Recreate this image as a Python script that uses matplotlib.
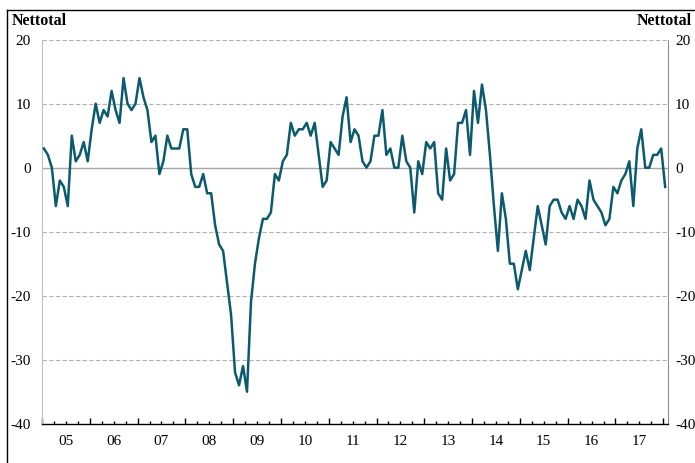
import numpy as np
import matplotlib
matplotlib.use('Agg')
import matplotlib.pyplot as plt
from matplotlib.ticker import MultipleLocator

# monthly net balance, Jan 2005 - Jan 2018
nettotal = [3, 2, 0, -6, -2, -3, -6, 5, 1, 2, 4, 1,
            6, 10, 7, 9, 8, 12, 9, 7, 14, 10, 9, 10,
            14, 11, 9, 4, 5, -1, 1, 5, 3, 3, 3, 6,
            6, -1, -3, -3, -1, -4, -4, -9, -12, -13, -18, -23,
            -32, -34, -31, -35, -21, -15, -11, -8, -8, -7, -1, -2,
            1, 2, 7, 5, 6, 6, 7, 5, 7, 2, -3, -2,
            4, 3, 2, 8, 11, 4, 6, 5, 1, 0, 1, 5,
            5, 9, 2, 3, 0, 0, 5, 1, 0, -7, 1, -1,
            4, 3, 4, -4, -5, 3, -2, -1, 7, 7, 9, 2,
            12, 7, 13, 9, 2, -6, -13, -4, -8, -15, -15, -19,
            -16, -13, -16, -11, -6, -9, -12, -6, -5, -5, -7, -8,
            -6, -8, -5, -6, -8, -2, -5, -6, -7, -9, -8, -3,
            -4, -2, -1, 1, -6, 3, 6, 0, 0, 2, 2, 3,
            -3]
start_year = 2005
year_labels = ['05', '06', '07', '08', '09', '10', '11', '12', '13', '14', '15', '16', '17']
y_ticks = [-40, -30, -20, -10, 0, 10, 20]

plt.rcParams['font.family'] = ['Liberation Serif', 'DejaVu Serif']
plt.rcParams['axes.unicode_minus'] = False

x_vals = start_year + np.arange(len(nettotal)) / 12.0 + 0.04

fig = plt.figure(figsize=(6.95, 4.63), dpi=100)
ax = fig.add_axes([0.0604, 0.0849, 0.9008, 0.8294])

ax.plot(x_vals, nettotal, color='#0b5a6e', lw=1.8, zorder=3)

ax.set_ylim(-40, 20)
ax.set_xlim(2005, 2018.1)

# grid lines
for y in y_ticks[1:]:
    if y == 0:
        ax.axhline(y, color='#a6a6a6', lw=1.0, zorder=1)
    else:
        ax.axhline(y, color='#b3b3b3', lw=0.8, ls=(0, (4, 2)), zorder=1)

ax.spines['top'].set_visible(False)
ax.spines['left'].set_color('#bfbfbf')
ax.spines['right'].set_color('#8c8c8c')
ax.spines['bottom'].set_color('black')
ax.spines['bottom'].set_linewidth(1.0)

ax.set_yticks(y_ticks)
ax.tick_params(axis='y', length=0, labelsize=11, pad=8)

right = ax.secondary_yaxis('right')
right.set_yticks(y_ticks)
right.tick_params(length=0, labelsize=11, pad=5)
right.spines['right'].set_visible(False)

ax.xaxis.set_major_locator(MultipleLocator(1))
ax.xaxis.set_minor_locator(MultipleLocator(0.25))
ax.tick_params(axis='x', which='major', direction='in', length=4, width=1, labelbottom=False)
ax.tick_params(axis='x', which='minor', direction='in', length=2.5, width=1)

sec = ax.secondary_xaxis('bottom')
sec.set_xticks([start_year + i + 0.5 for i in range(len(year_labels))], year_labels)
sec.tick_params(length=0, pad=8, labelsize=11)
sec.spines['bottom'].set_visible(False)

fig.text(0.017, 0.945, 'Nettotal', fontsize=11.5, fontweight='bold', ha='left', va='baseline')
fig.text(0.996, 0.945, 'Nettotal', fontsize=11.5, fontweight='bold', ha='right', va='baseline')

# outer frame (top and left edges)
fig.add_artist(plt.Line2D([0.0105, 1.0], [0.978, 0.978], color='black', lw=1.0, transform=fig.transFigure))
fig.add_artist(plt.Line2D([0.0105, 0.0105], [0.0, 0.978], color='black', lw=1.0, transform=fig.transFigure))

fig.savefig('out.png', dpi=100)
